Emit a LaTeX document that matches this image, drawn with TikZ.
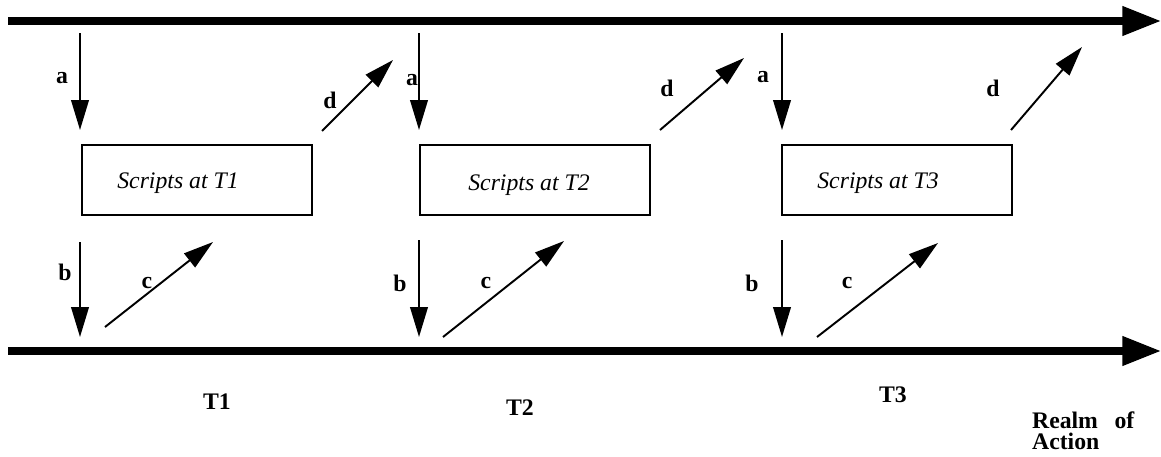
\documentclass[tikz,border=0pt]{standalone}
\usepackage{fontspec}
\setmainfont{Liberation Serif}
\usepackage{tikz}
\usetikzlibrary{arrows.meta,positioning,calc}

\begin{document}
\begin{tikzpicture}[
  font=\fontsize{13.5}{15}\selectfont,
  realm/.style={-{Triangle[length=22pt, width=16pt]}, line width=4pt},
  flow/.style={-{Triangle[length=17pt, width=10pt]}, line width=1.1pt},
  script/.style={draw, line width=0.8pt, minimum width=4.6cm,
                 minimum height=1.4cm, inner sep=0pt},
  lbl/.style={font=\fontsize{13.5}{15}\selectfont\bfseries, inner sep=1pt},
  stxt/.style={font=\fontsize{13.5}{15}\selectfont\itshape, inner sep=1pt}
]
  \useasboundingbox (0,0) rectangle (23.22,-9.12);
  % realm lines
  \coordinate (top0) at (0.16,-0.42); \coordinate (top1) at (23.22,-0.42);
  \coordinate (bot0) at (0.16,-7.02); \coordinate (bot1) at (23.22,-7.02);
  \draw[realm] (top0) -- (top1);
  \draw[realm] (bot0) -- (bot1);
  % T1
  \node[script] (s1) at (3.94,-3.60) {};
  \node[stxt] (s1t) at (3.56,-3.66) {Scripts at T1};
  \coordinate (a1s) at (1.60,-0.66); \coordinate (a1e) at (1.60,-2.60);
  \coordinate (b1s) at (1.60,-4.84); \coordinate (b1e) at (1.60,-6.74);
  \coordinate (c1s) at (2.10,-6.54); \coordinate (c1e) at (4.26,-4.84);
  \coordinate (d1s) at (6.44,-2.62); \coordinate (d1e) at (7.86,-1.20);
  \draw[flow] (a1s) -- (a1e);
  \draw[flow] (b1s) -- (b1e);
  \draw[flow] (c1s) -- (c1e);
  \draw[flow] (d1s) -- (d1e);
  \node[lbl] (la1) at (1.24,-1.56) {a};
  \node[lbl] (lb1) at (1.30,-5.44) {b};
  \node[lbl] (lc1) at (2.94,-5.66) {c};
  \node[lbl] (ld1) at (6.60,-2.00) {d};
  \node[lbl] (t1) at (4.34,-8.04) {T1};
  % T2
  \node[script] (s2) at (10.70,-3.60) {};
  \node[stxt] (s2t) at (10.58,-3.70) {Scripts at T2};
  \coordinate (a2s) at (8.38,-0.66); \coordinate (a2e) at (8.38,-2.60);
  \coordinate (b2s) at (8.38,-4.80); \coordinate (b2e) at (8.38,-6.74);
  \coordinate (c2s) at (8.86,-6.74); \coordinate (c2e) at (11.28,-4.82);
  \coordinate (d2s) at (13.20,-2.60); \coordinate (d2e) at (14.88,-1.16);
  \draw[flow] (a2s) -- (a2e);
  \draw[flow] (b2s) -- (b2e);
  \draw[flow] (c2s) -- (c2e);
  \draw[flow] (d2s) -- (d2e);
  \node[lbl] (la2) at (8.24,-1.60) {a};
  \node[lbl] (lb2) at (8.00,-5.66) {b};
  \node[lbl] (lc2) at (9.72,-5.66) {c};
  \node[lbl] (ld2) at (13.34,-1.76) {d};
  \node[lbl] (t2) at (10.40,-8.16) {T2};
  % T3
  \node[script] (s3) at (17.94,-3.60) {};
  \node[stxt] (s3t) at (17.56,-3.66) {Scripts at T3};
  \coordinate (a3s) at (15.64,-0.66); \coordinate (a3e) at (15.64,-2.60);
  \coordinate (b3s) at (15.64,-4.80); \coordinate (b3e) at (15.64,-6.74);
  \coordinate (c3s) at (16.34,-6.74); \coordinate (c3e) at (18.76,-4.86);
  \coordinate (d3s) at (20.22,-2.60); \coordinate (d3e) at (21.64,-0.94);
  \draw[flow] (a3s) -- (a3e);
  \draw[flow] (b3s) -- (b3e);
  \draw[flow] (c3s) -- (c3e);
  \draw[flow] (d3s) -- (d3e);
  \node[lbl] (la3) at (15.26,-1.54) {a};
  \node[lbl] (lb3) at (15.04,-5.66) {b};
  \node[lbl] (lc3) at (16.94,-5.66) {c};
  \node[lbl] (ld3) at (19.86,-1.76) {d};
  \node[lbl] (t3) at (17.86,-7.90) {T3};
  % realm label
  \node[lbl, align=left, anchor=north west] (ra) at (20.60,-8.20)
    {Realm\hspace{0.7em}of\\[-3pt]Action};
\end{tikzpicture}
\end{document}
